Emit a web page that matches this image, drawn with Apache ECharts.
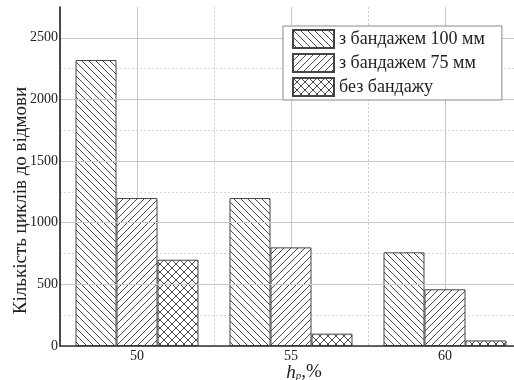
<!DOCTYPE html>
<html><head><meta charset="utf-8">
<script src="https://cdn.jsdelivr.net/npm/echarts@6/dist/echarts.min.js"></script>
<style>html,body{margin:0;padding:0;background:#fff}#c{width:514px;height:380px}</style>
</head><body><div id="c"></div>
<script>
const categories = ['50', '55', '60'];
const seriesNames = ['з бандажем 100 мм', 'з бандажем 75 мм', 'без бандажу'];
const band100 = [2320, 1200, 760];
const band75 = [1200, 800, 460];
const noBand = [700, 100, 45];
const yTicks = [0, 500, 1000, 1500, 2000, 2500];

function pattern(kind, s) {
  const c = document.createElement('canvas');
  c.width = s; c.height = s;
  const g = c.getContext('2d');
  g.fillStyle = '#fff'; g.fillRect(0, 0, s, s);
  g.strokeStyle = '#4a4a4a'; g.lineWidth = 1;
  g.beginPath();
  for (const k of [-s, 0, s]) {
    if (kind === 'back' || kind === 'cross') { g.moveTo(k, 0); g.lineTo(k + s, s); }
    if (kind === 'fwd' || kind === 'cross') { g.moveTo(k + s, 0); g.lineTo(k, s); }
  }
  g.stroke();
  return { image: c, repeat: 'repeat' };
}
const fills = [pattern('back', 7), pattern('fwd', 7), pattern('cross', 8)];
const data = [band100, band75, noBand];
const font = 'Liberation Serif';
const hCol = [];
for (let i = 0; i < 12; i++) hCol.push(i === 11 ? 'transparent' : '#d8d8d8');
const mCol = yTicks.map(() => '#c8c8c8'); mCol.push('transparent');

const chart = echarts.init(document.getElementById('c'), null, {renderer: 'canvas'});
chart.setOption({
  animation: false,
  backgroundColor: '#fff',
  grid: { left: 60, top: 7, width: 462, height: 339, containLabel: false, outerBoundsMode: 'none' },
  xAxis: [
    { type: 'category', data: categories, boundaryGap: true,
      axisLine: { lineStyle: { color: '#333', width: 1.5 } },
      axisTick: { show: false }, splitLine: { show: false },
      axisLabel: { color: '#222', fontFamily: font, fontSize: 14, margin: 3 },
      name: '{i|h}{s|р}{n|,%}', nameLocation: 'middle', nameGap: 17, nameMoveOverlap: false,
      nameTextStyle: { padding: [0, 0, 0, 26], rich: {
        i: { fontFamily: font, fontStyle: 'italic', fontSize: 19, color: '#222' },
        s: { fontFamily: font, fontStyle: 'italic', fontSize: 11, color: '#222', padding: [8, 0, 0, 0] },
        n: { fontFamily: font, fontSize: 19, color: '#222' } } },
      z: 5 },
    { type: 'value', min: 0, max: 3, interval: 1, show: true, position: 'bottom',
      axisLine: { show: false }, axisTick: { show: false }, axisLabel: { show: false },
      splitLine: { show: true, lineStyle: { color: '#cfcfcf', type: [2, 2], width: 1 } },
      minorTick: { show: false, splitNumber: 2 },
      minorSplitLine: { show: true, lineStyle: { color: '#c8c8c8', width: 1, type: 'solid' } } }
  ],
  yAxis: [
    { type: 'value', min: 0, max: 2750, interval: 500,
      axisLine: { show: true, lineStyle: { color: '#111', width: 1.5 } },
      axisTick: { show: false },
      axisLabel: { color: '#222', fontFamily: font, fontSize: 14, margin: 2, showMaxLabel: false,
        formatter: v => String(v) },
      splitLine: { show: true, lineStyle: { color: mCol, width: 1 } },
      name: 'Кількість циклів до відмови', nameLocation: 'middle', nameGap: 29, nameMoveOverlap: false,
      nameTextStyle: { fontFamily: font, fontSize: 19, color: '#222', padding: [0, 48, 0, 0] },
      z: 5 },
    { type: 'value', min: 0, max: 2750, interval: 250, position: 'left',
      axisLine: { show: false }, axisTick: { show: false }, axisLabel: { show: false },
      splitLine: { show: true, lineStyle: { color: hCol, type: [2, 2], width: 1 } } }
  ],
  legend: {
    orient: 'vertical', left: 283, top: 26, z: 30,
    padding: [3, 17, 3, 9], itemGap: 4, itemWidth: 41, itemHeight: 18,
    icon: 'rect',
    backgroundColor: '#fff', borderColor: '#888', borderWidth: 1,
    textStyle: { fontFamily: font, fontSize: 18, color: '#222' },
    data: seriesNames
  },
  series: data.map((d, i) => ({
    type: 'bar', name: seriesNames[i], data: d, xAxisIndex: 0, yAxisIndex: 0,
    barWidth: 41, barGap: '0%',
    itemStyle: { color: fills[i], borderColor: '#444', borderWidth: 1 }
  }))
});
</script></body></html>
